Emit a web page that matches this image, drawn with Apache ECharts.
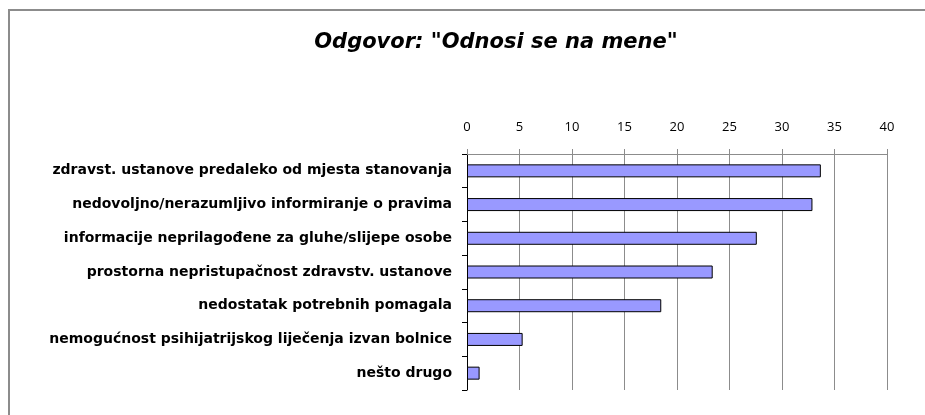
<!DOCTYPE html>
<html>
<head>
<meta charset="utf-8">
<script src="https://cdn.jsdelivr.net/npm/echarts@6/dist/echarts.min.js"></script>
<style>html,body{margin:0;padding:0;background:#fff;}#c{width:925px;height:415px;}</style>
</head>
<body>
<div id="c"></div>
<script>
const categories = [
  "zdravst. ustanove predaleko od mjesta stanovanja",
  "nedovoljno/nerazumljivo informiranje o pravima",
  "informacije neprilagođene za gluhe/slijepe osobe",
  "prostorna nepristupačnost zdravstv. ustanove",
  "nedostatak potrebnih pomagala",
  "nemogućnost psihijatrijskog liječenja izvan bolnice",
  "nešto drugo"
];
const values = [33.7, 32.9, 27.6, 23.4, 18.5, 5.3, 1.2];
const titleText = 'Odgovor: "Odnosi se na mene"';
const axisMin = 0, axisMax = 40, axisStep = 5;

const chart = echarts.init(document.getElementById('c'), null, {renderer: 'canvas'});
chart.setOption({
  backgroundColor: '#fff',
  animation: false,
  title: {
    text: titleText,
    left: 491,
    textAlign: 'center',
    top: 27,
    textStyle: {fontFamily: 'DejaVu Sans', fontStyle: 'italic', fontWeight: 'bold', fontSize: 21, color: '#000'}
  },
  graphic: [{
    type: 'rect',
    shape: {x: 9, y: 10, width: 940, height: 420},
    style: {fill: 'none', stroke: '#8c8c8c', lineWidth: 2},
    silent: true
  }],
  grid: {left: 467, right: 38, top: 154, bottom: 25, containLabel: false},
  xAxis: {
    type: 'value',
    position: 'top',
    min: axisMin, max: axisMax, interval: axisStep,
    axisLine: {show: true, lineStyle: {color: '#8c8c8c', width: 1}},
    axisTick: {show: true, length: 5, lineStyle: {color: '#8c8c8c'}},
    axisLabel: {color: '#000', fontFamily: 'Open Sans', fontSize: 13, margin: 20},
    splitLine: {show: true, lineStyle: {color: '#8c8c8c', width: 1}}
  },
  yAxis: {
    type: 'category',
    inverse: true,
    data: categories,
    axisLine: {show: true, lineStyle: {color: '#000', width: 1}},
    axisTick: {show: true, length: 5, lineStyle: {color: '#000'}},
    axisLabel: {color: '#000', fontFamily: 'DejaVu Sans', fontWeight: 'bold', fontSize: 14, margin: 15}
  },
  series: [{
    type: 'bar',
    data: values,
    barWidth: 13,
    itemStyle: {color: '#9999ff', borderColor: '#000', borderWidth: 1}
  }]
});
</script>
</body>
</html>
